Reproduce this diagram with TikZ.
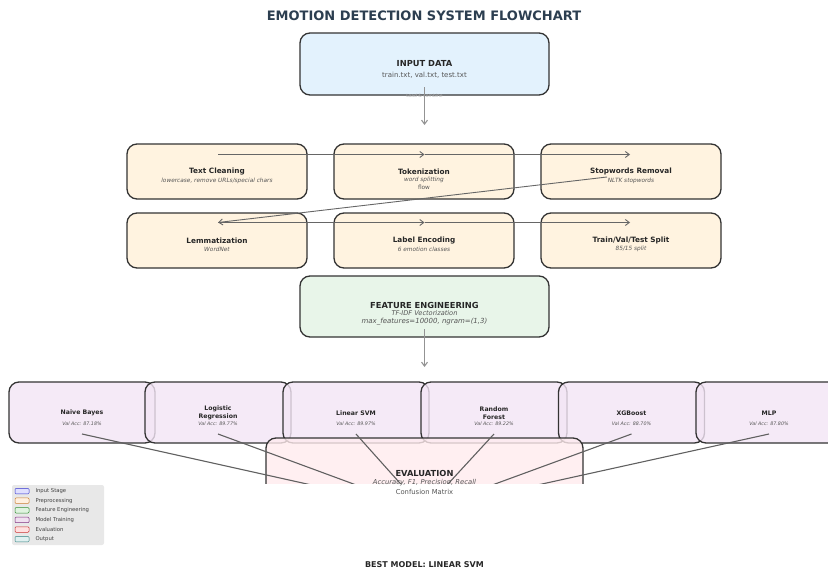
\documentclass[tikz,border=0pt]{standalone}
\usepackage{fontspec}
\setmainfont{DejaVu Sans}
\usetikzlibrary{arrows.meta}
% Farben der Stufen
\definecolor{boxline}{HTML}{333333}
\definecolor{titleblue}{HTML}{2C3E50}
\definecolor{subgray}{HTML}{555555}
\definecolor{inputfill}{HTML}{E3F2FD}
\definecolor{prefill}{HTML}{FFF3E0}
\definecolor{featfill}{HTML}{E8F5E9}
\definecolor{modelfill}{HTML}{F3E5F5}
\definecolor{evalfill}{HTML}{FFEBEE}
\definecolor{outfill}{HTML}{E0F2F1}
\newcommand{\sizept}[1]{\fontsize{#1}{#1}\selectfont}
\tikzset{
  stagebox/.style={draw=boxline,line width=1.3pt,rounded corners=10pt,fill=#1,inner sep=0pt},
  bigtitle/.style={font=\sizept{8.3}\bfseries,text=black!85},
  smalltitle/.style={font=\sizept{7.3}\bfseries,text=black!85,align=center},
  subtext/.style={font=\sizept{#1}\itshape,text=subgray,align=center},
  flowarrow/.style={->,draw=gray!85,line width=1.1pt},
  prearrow/.style={->,draw=gray!80!black,line width=0.9pt},
  hubline/.style={draw=gray!75!black,line width=1.1pt},
  legpatch/.style={draw=#1!60!gray,fill=#1!12,rounded corners=1pt,line width=0.5pt,minimum width=14pt,minimum height=5.5pt,inner sep=0pt}
}
\begin{document}
\begin{tikzpicture}[x=1pt,y=-1pt,>={Straight Barb[length=4pt,width=6pt]}]
\useasboundingbox (0,0) rectangle (828,573);
% Ueberschrift
\node[font=\sizept{13}\bfseries,text=titleblue] (title) at (424,16) {EMOTION DETECTION SYSTEM FLOWCHART};
% Eingabe
\node[stagebox=inputfill,minimum width=249pt,minimum height=62pt] (input) at (424.5,64) {};
\node[bigtitle] (inputT) at (424.5,64) {INPUT DATA};
\node[font=\sizept{7},text=subgray] (inputS) at (424.5,75.5) {train.txt, val.txt, test.txt};
\node[font=\sizept{4.5},text=gray!60] (load) at (424.5,96) {Load \& combine};
\coordinate (inA) at (424.5,87);
\coordinate (inB) at (424.5,125);
\draw[flowarrow] (inA) -- (inB);
% Vorverarbeitung (zwei Reihen)
\foreach \n/\x/\y in {clean/217/171.5, token/424/171.5, stop/631/171.5,
                      lemma/217/240.5, label/424/240.5, split/631/240.5}
  \node[stagebox=prefill,minimum width=180pt,minimum height=55pt] (\n) at (\x,\y) {};
\node[smalltitle] (cleanT) at (217,171.5) {Text Cleaning};
\node[subtext=5.8] (cleanS) at (217,180.5) {lowercase, remove URLs/special chars};
\node[smalltitle] (tokenT) at (424,171.5) {Tokenization};
\node[subtext=5.8] (tokenS) at (424,180) {word splitting};
\node[font=\sizept{5.8},text=subgray] (tokenF) at (424,187.5) {flow};
\node[smalltitle] (stopT) at (631,171.5) {Stopwords Removal};
\node[subtext=5.8] (stopS) at (631,180.5) {NLTK stopwords};
\node[smalltitle] (lemmaT) at (217,240.5) {Lemmatization};
\node[subtext=5.8] (lemmaS) at (217,249) {WordNet};
\node[smalltitle] (labelT) at (424,240.5) {Label Encoding};
\node[subtext=5.8] (labelS) at (424,249) {6 emotion classes};
\node[smalltitle] (splitT) at (631,240.5) {Train/Val/Test Split};
\node[subtext=5.8] (splitS) at (631,249) {85/15 split};
% Pfeilpunkte der Vorverarbeitung
\coordinate (p1) at (218,154.5);
\coordinate (p2) at (424.5,154.5);
\coordinate (p3) at (630,154.5);
\coordinate (p4) at (607,177);
\coordinate (q1) at (218,222.5);
\coordinate (q2) at (424.5,222.5);
\coordinate (q3) at (630,222.5);
\draw[prearrow] (p1) -- (p2);
\draw[prearrow] (p2) -- (p3);
\draw[prearrow] (p4) -- (q1);
\draw[prearrow] (q1) -- (q2);
\draw[prearrow] (q2) -- (q3);
% Merkmalsextraktion
\node[stagebox=featfill,minimum width=249pt,minimum height=61pt] (feat) at (424.5,306.5) {};
\node[bigtitle] (featT) at (424.5,305) {FEATURE ENGINEERING};
\node[subtext=6.6] (featS) at (424.5,313) {TF-IDF Vectorization};
\node[subtext=7] (featP) at (424.5,321.5) {max\_features=10000, ngram=(1,3)};
\coordinate (ftA) at (424.5,329);
\coordinate (ftB) at (424.5,367);
\draw[flowarrow] (ftA) -- (ftB);
% Modelle
\foreach \n/\x/\t/\a in {nb/82/{Naive Bayes}/87.18, lr/218/{Logistic\\Regression}/89.77,
                          svm/356/{Linear SVM}/89.97, rf/494/{Random\\Forest}/89.22,
                          xgb/631.5/{XGBoost}/88.70, mlp/769/{MLP}/87.80} {
  \node[stagebox=modelfill,fill opacity=0.8,minimum width=146pt,minimum height=61pt] (\n) at (\x,412.5) {};
  \node[font=\fontsize{6.2}{8}\selectfont\bfseries,text=black!85,align=center] (\n T) at (\x,413) {\t};
  \node[subtext=4.8] (\n S) at (\x,423.5) {Val Acc: \a\%};
  \coordinate (\n-out) at (\x,434);
}
% Auswertung (unten abgeschnitten)
\coordinate (evalhub) at (424,510);
\begin{scope}
  \clip (0,0) rectangle (828,483);
  \node[stagebox=evalfill,fill opacity=0.8,minimum width=317pt,minimum height=104pt] (eval) at (424.5,490) {};
  \foreach \n in {nb,lr,svm,rf,xgb,mlp}
    \draw[hubline] (\n-out) -- (evalhub);
\end{scope}
\node[bigtitle] (evalT) at (424.5,473.5) {EVALUATION};
\node[subtext=6.8] (evalS) at (424.5,482.5) {Accuracy, F1, Precision, Recall};
\node[font=\sizept{6.8},text=subgray] (evalC) at (424.5,491.5) {Confusion Matrix};
% Legende
\node[fill=black!9,rounded corners=2pt,minimum width=92pt,minimum height=60pt,inner sep=0pt] (legend) at (58,515) {};
\foreach \c/\t [count=\i] in {blue/Input Stage, orange/Preprocessing,
                              green!60!black/Feature Engineering, violet/Model Training,
                              red/Evaluation, teal/Output} {
  \node[legpatch=\c] (leg\i) at (22,{481.5+9.6*\i}) {};
  \node[anchor=west,font=\sizept{5.3},text=black!75] (leg\i T) at (32,{481.5+9.6*\i}) {\t};
}
% Ergebnis
\node[font=\sizept{8}\bfseries,text=black!85] (best) at (424.5,565) {BEST MODEL: LINEAR SVM};
\end{tikzpicture}
\end{document}
